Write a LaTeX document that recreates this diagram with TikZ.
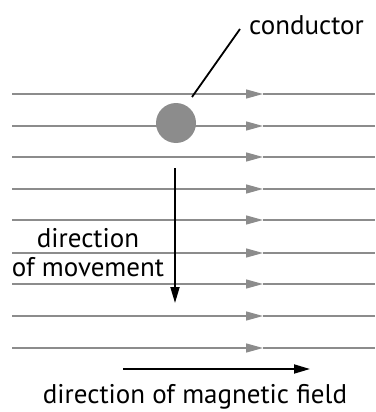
\documentclass[tikz,border=0pt]{standalone}
\usepackage{fontspec}
\setmainfont{PT Sans}
\usetikzlibrary{arrows.meta}
\begin{document}
\begin{tikzpicture}[x=1pt,y=-1pt,
  fieldline/.style={draw=black!45,line width=1.4pt},
  fieldtip/.style={fieldline,-{Triangle[length=17pt,width=9pt]}},
  blackarrow/.style={draw=black,line width=1.8pt,-{Triangle[length=16pt,width=9pt]}},
  lbl/.style={font=\fontsize{27}{29}\selectfont,text=black,inner sep=0pt}]
\useasboundingbox (0,0) rectangle (375,412);
\foreach \i/\y in {1/94,2/126,3/157,4/189,5/220,6/253,7/284,8/316,9/348}{
  \coordinate (l\i) at (12,\y);
  \coordinate (m\i) at (263,\y);
  \coordinate (r\i) at (375,\y);
  \draw[fieldtip] (l\i) -- (m\i);
  \draw[fieldline] (m\i) -- (r\i);
}
\node[circle,fill=black!45,minimum size=40pt,inner sep=0pt] (cond) at (176,123) {};
\node[lbl,anchor=west] (ctext) at (249,25) {conductor};
\coordinate (lead) at (192,97);
\coordinate (leadend) at (240,29);
\draw[line width=1.8pt,black] (lead) -- (leadend);
\coordinate (mvs) at (175,168);
\coordinate (mve) at (175,303);
\draw[blackarrow] (mvs) -- (mve);
\node[lbl,align=center] (mvtext) at (88,253) {direction\\of movement};
\coordinate (fs) at (123,369);
\coordinate (fe) at (310,369);
\draw[blackarrow] (fs) -- (fe);
\node[lbl] (ftext) at (195,397) {direction of magnetic field};
\end{tikzpicture}
\end{document}
